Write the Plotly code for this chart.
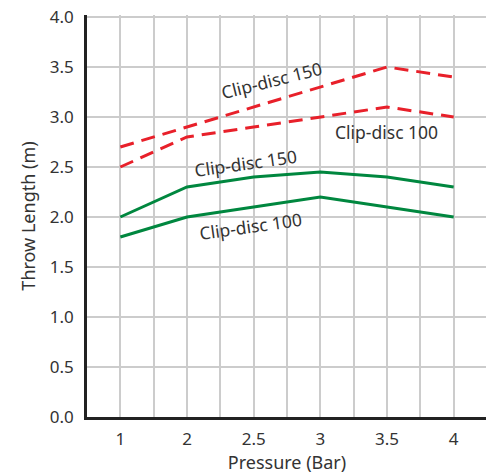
import plotly.graph_objects as go

pressure_labels = ["1", "2", "2.5", "3", "3.5", "4"]
red_150 = [2.7, 2.9, 3.1, 3.3, 3.5, 3.4]
red_100 = [2.5, 2.8, 2.9, 3.0, 3.1, 3.0]
green_150 = [2.0, 2.3, 2.4, 2.45, 2.4, 2.3]
green_100 = [1.8, 2.0, 2.1, 2.2, 2.1, 2.0]
y_ticks = [0.0, 0.5, 1.0, 1.5, 2.0, 2.5, 3.0, 3.5, 4.0]

xi = list(range(len(pressure_labels)))
RED = "#e8202a"
GREEN = "#00873f"
TXT = "#333333"
FONT = "Noto Sans"

fig = go.Figure()
for ys in (red_150, red_100):
    fig.add_trace(go.Scatter(x=xi, y=ys, mode="lines",
                             line=dict(color=RED, width=3, dash="14px,8px"),
                             showlegend=False, hoverinfo="skip"))
for ys in (green_150, green_100):
    fig.add_trace(go.Scatter(x=xi, y=ys, mode="lines",
                             line=dict(color=GREEN, width=3),
                             showlegend=False, hoverinfo="skip"))

anns = [
    dict(x=2.27, y=3.37, text="Clip-disc 150", textangle=-14),
    dict(x=3.99, y=2.85, text="Clip-disc 100", textangle=0),
    dict(x=1.87, y=2.54, text="Clip-disc 150", textangle=-8),
    dict(x=1.95, y=1.91, text="Clip-disc 100", textangle=-8),
]
for a in anns:
    fig.add_annotation(x=a["x"], y=a["y"], xref="x", yref="y", text=a["text"],
                       textangle=a["textangle"], showarrow=False,
                       font=dict(family=FONT, size=17.5, color=TXT))

fig.update_layout(
    width=494, height=474,
    margin=dict(l=79, r=15, t=7, b=65),
    paper_bgcolor="white", plot_bgcolor="white",
    font=dict(family=FONT, size=17, color=TXT),
)
fig.update_xaxes(
    automargin=False,
    range=[-0.5, 5.5], tickmode="array", tickvals=xi, ticktext=pressure_labels,
    showgrid=True, gridcolor="#cccccc", gridwidth=1.5,
    minor=dict(tickmode="linear", tick0=-0.5, dtick=0.5, showgrid=True,
               gridcolor="#cccccc", gridwidth=1.5),
    showline=True, linecolor="#222222", linewidth=2.5, zeroline=False,
    ticks="", ticklabelstandoff=5,
    title=dict(text="Pressure (Bar)", font=dict(size=18, color=TXT), standoff=0),
    tickfont=dict(size=17, color=TXT),
)
fig.update_yaxes(
    automargin=False, ticklabeloverflow="allow",
    range=[0, 4.02], tickmode="array", tickvals=y_ticks,
    ticktext=[f"{v:.1f}" for v in y_ticks],
    showgrid=True, gridcolor="#cccccc", gridwidth=1.5,
    showline=True, linecolor="#222222", linewidth=2.5, zeroline=False,
    ticks="", ticklabelstandoff=7,
    title=dict(text="Throw Length (m)", font=dict(size=18, color=TXT), standoff=10),
    tickfont=dict(size=17, color=TXT),
)

fig.write_html("out.html")
